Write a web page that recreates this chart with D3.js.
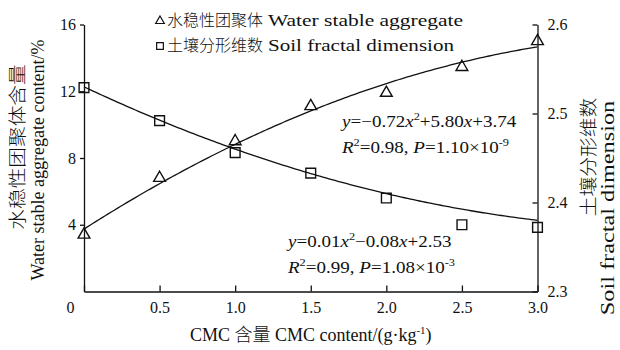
<!DOCTYPE html>
<html><head><meta charset="utf-8">
<script src="https://cdn.jsdelivr.net/npm/d3@7/dist/d3.min.js"></script>
<style>
body{margin:0;background:#fff}
svg{display:block}
text{font-family:"Liberation Serif","Times New Roman","Noto Sans CJK SC",serif;fill:#111}
</style>
</head><body><svg id="chart" width="620" height="350"></svg>
<script>
// CMC content (g/kg) and measured values
const cmcContent = [0, 0.5, 1.0, 1.5, 2.0, 2.5, 3.0];
const aggregateValues = [3.4, 6.8, 9.0, 11.1, 11.9, 13.45, 15.0];
const fractalValues = [2.529, 2.492, 2.456, 2.433, 2.405, 2.375, 2.372];
// quadratic fits y = a*x^2 + b*x + c
const aggregateFit = [-0.72, 5.80, 3.74];
const fractalFit = [0.01, -0.08, 2.53];
// tick values
const xTicks = [0, 0.5, 1.0, 1.5, 2.0, 2.5, 3.0];
const leftTicks = [4, 8, 12, 16];
const rightTicks = [2.3, 2.4, 2.5, 2.6];

const svg = d3.select("#chart");
const ink = "#111";
const m = {left: 84, right: 537.5, top: 24.5, bottom: 291.5};

const x = d3.scaleLinear().domain([0, 3]).range([m.left, m.right]);
const yL = d3.scaleLinear().domain([0, 16]).range([m.bottom, m.top]);
const yR = d3.scaleLinear().domain([2.3, 2.6]).range([m.bottom, m.top]);

const zhFont = '"Noto Sans CJK SC",sans-serif';
const enFont = '"Liberation Serif","Times New Roman",serif';

function styleAxis(g) {
  g.selectAll("path,line").attr("stroke", ink).attr("stroke-width", 1.3);
  g.selectAll("text").attr("font-size", 16).attr("fill", ink).attr("font-family", enFont);
}

// bottom axis, ticks pointing inward
const gx = svg.append("g").attr("transform", `translate(0,${m.bottom})`)
  .call(d3.axisBottom(x).tickValues(xTicks).tickSizeInner(-6).tickSizeOuter(0).tickPadding(10)
    .tickFormat(d => d === 0 ? "0" : d3.format(".1f")(d)));
styleAxis(gx);
gx.selectAll(".tick").filter(d => d === 0).select("text").attr("dx", -14);

// left axis
const gl = svg.append("g").attr("transform", `translate(${m.left},0)`)
  .call(d3.axisLeft(yL).tickValues(leftTicks).tickSizeInner(4).tickSizeOuter(0).tickPadding(4));
styleAxis(gl);

// right axis, ticks pointing inward
const gr = svg.append("g").attr("transform", `translate(${m.right},0)`)
  .call(d3.axisRight(yR).tickValues(rightTicks).tickSizeInner(-5).tickSizeOuter(0).tickPadding(10)
    .tickFormat(d3.format(".1f")));
styleAxis(gr);

// fitted curves
const xs = d3.range(0, 3.0001, 0.02);
const quad = (c, v) => c[0] * v * v + c[1] * v + c[2];
svg.append("path")
  .attr("d", d3.line().x(v => x(v)).y(v => yL(quad(aggregateFit, v)))(xs))
  .attr("fill", "none").attr("stroke", ink).attr("stroke-width", 1.3);
svg.append("path")
  .attr("d", d3.line().x(v => x(v)).y(v => yR(quad(fractalFit, v)))(xs))
  .attr("fill", "none").attr("stroke", ink).attr("stroke-width", 1.3);

// markers
const tri = d3.symbol().type(d3.symbolTriangle).size(60);
const sq = d3.symbol().type(d3.symbolSquare).size(95);
svg.append("g").selectAll("path").data(cmcContent).join("path")
  .attr("d", tri)
  .attr("transform", (d, i) => `translate(${x(d)},${yL(aggregateValues[i])})`)
  .attr("fill", "none").attr("stroke", ink).attr("stroke-width", 1.4);
svg.append("g").selectAll("path").data(cmcContent).join("path")
  .attr("d", sq)
  .attr("transform", (d, i) => `translate(${x(d)},${yR(fractalValues[i])})`)
  .attr("fill", "none").attr("stroke", ink).attr("stroke-width", 1.4);

// legend
const legend = svg.append("g").attr("transform", "translate(160,0)");
function legendRow(yp, symbolType, symSize, zh, en, enWidth) {
  legend.append("path").attr("d", d3.symbol().type(symbolType).size(symSize))
    .attr("transform", `translate(0,${yp - 5})`).attr("fill", "none")
    .attr("stroke", ink).attr("stroke-width", 1.2);
  legend.append("text").attr("x", 7).attr("y", yp).attr("font-size", 16)
    .attr("font-family", zhFont).attr("font-weight", 300).text(zh);
  legend.append("text").attr("x", 108).attr("y", yp).attr("font-size", 16)
    .attr("textLength", enWidth).attr("lengthAdjust", "spacingAndGlyphs").text(en);
}
legendRow(26, d3.symbolTriangle, 32, "水稳性团聚体", "Water stable aggregate", 195);
legendRow(51, d3.symbolSquare, 45, "土壤分形维数", "Soil fractal dimension", 186);

// axis titles (rotated, stretched along reading direction)
function vtitle(xp, yc, str, stretch, family, weight) {
  svg.append("text").attr("transform", `translate(${xp},${yc}) rotate(-90) scale(${stretch},1)`)
    .attr("text-anchor", "middle").attr("dominant-baseline", "central")
    .attr("font-family", family).attr("font-weight", weight)
    .attr("font-size", 18).text(str);
}
vtitle(18, 147, "水稳性团聚体含量", 1.15, zhFont, 300);
vtitle(38, 160, "Water stable aggregate content/%", 1.0, enFont, 400);
vtitle(589, 157, "土壤分形维数", 1.1, zhFont, 300);
vtitle(608, 208, "Soil fractal dimension", 1.35, enFont, 400);

const xt = svg.append("text").attr("x", (m.left + m.right) / 2).attr("y", 341)
  .attr("text-anchor", "middle").attr("font-size", 18);
xt.append("tspan").text("CMC ");
xt.append("tspan").attr("font-family", zhFont).attr("font-weight", 300).text("含量");
xt.append("tspan").text(" CMC content/(g·kg");
xt.append("tspan").attr("dy", -7).attr("font-size", 11).text("-1");
xt.append("tspan").attr("dy", 7).text(")");

// equation labels
function fmt(v) { return (v < 0 ? "−" : "") + Math.abs(v).toFixed(2); }
function sgn(v) { return v < 0 ? "−" : "+"; }
function equation(xp, yp, c, r2, pMant, pExp) {
  const g = svg.append("g").attr("transform", `translate(${xp},${yp}) scale(1.12,1)`);
  const t1 = g.append("text").attr("x", 0).attr("y", 0).attr("font-size", 17);
  t1.append("tspan").attr("font-style", "italic").text("y");
  t1.append("tspan").text("=" + fmt(c[0]));
  t1.append("tspan").attr("font-style", "italic").text("x");
  t1.append("tspan").attr("dy", -7).attr("font-size", 11).text("2");
  t1.append("tspan").attr("dy", 7).text(sgn(c[1]) + Math.abs(c[1]).toFixed(2));
  t1.append("tspan").attr("font-style", "italic").text("x");
  t1.append("tspan").text(sgn(c[2]) + Math.abs(c[2]).toFixed(2));
  const t2 = g.append("text").attr("x", 0).attr("y", 26).attr("font-size", 17);
  t2.append("tspan").attr("font-style", "italic").text("R");
  t2.append("tspan").attr("dy", -7).attr("font-size", 11).text("2");
  t2.append("tspan").attr("dy", 7).text("=" + r2.toFixed(2) + ", ");
  t2.append("tspan").attr("font-style", "italic").text("P");
  t2.append("tspan").text("=" + pMant.toFixed(2) + "×10");
  t2.append("tspan").attr("dy", -7).attr("font-size", 11).text("-" + pExp);
}
equation(342, 127, aggregateFit, 0.98, 1.10, 9);
equation(288, 247, fractalFit, 0.99, 1.08, 3);
</script>
</body></html>
